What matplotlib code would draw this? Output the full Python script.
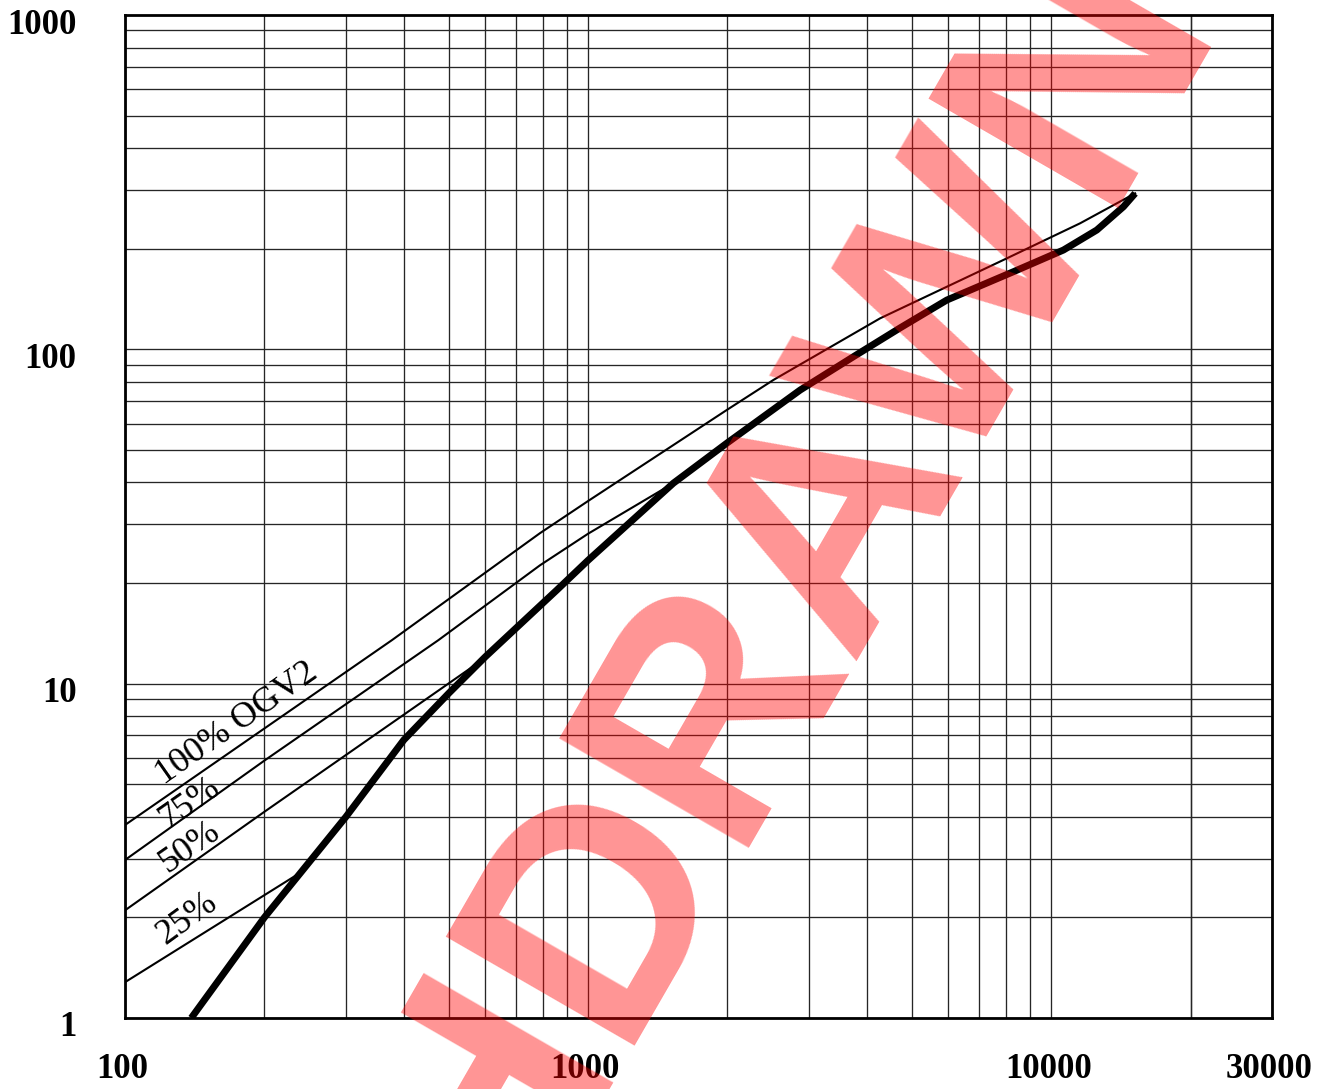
import matplotlib
matplotlib.use("Agg")
import matplotlib.pyplot as plt
from matplotlib.transforms import ScaledTranslation

# thick curve
thick_x = [139, 200, 300, 400, 500, 600, 856, 1000, 1528, 2000, 2871,
           3741, 4720, 5953, 8291, 10632, 12550, 14330, 15185]
thick_y = [1.0, 2.0, 4.0, 6.79, 9.36, 12.04, 19.06, 23.4, 39.8, 52.6, 75.6,
           95.1, 116, 140.5, 170.8, 198.3, 227.6, 267.3, 293]

# thin curves, each one ends where it joins the thick one
ogv100_x = [100, 377, 787, 1000, 2000, 2512, 4273, 8024, 11550, 15185]
ogv100_y = [3.78, 13.5, 28.2, 35.2, 66.1, 81.0, 123.9, 187.3, 238.4, 293]

ogv75_x = [100, 200, 475, 787, 1000, 1528]
ogv75_y = [2.97, 5.89, 13.5, 22.6, 28.1, 39.8]

ogv50_x = [100, 200, 400, 589]
ogv50_y = [2.10, 4.14, 8.08, 11.74]

ogv25_x = [100, 240]
ogv25_y = [1.28, 2.73]

x_ticks = [100, 1000, 10000, 30000]
x_ticklabels = ["100", "1000", "10000", "30000"]
y_ticks = [1, 10, 100, 1000]
y_ticklabels = ["1", "10", "100", "1000"]

# grid positions: 2..9 in each decade
x_grid = [m * d for d in (100, 1000, 10000) for m in range(1, 10)] + [20000]
y_grid = [m * d for d in (1, 10, 100) for m in range(1, 10)]

curve_labels = ["100% OGV2", "75%", "50%", "25%"]
label_x = [174.5, 138.2, 138.2, 136.5]
label_y = [7.6, 4.4, 3.25, 1.98]
label_rot = [35, 35, 35, 36]

serif = ["Liberation Serif", "DejaVu Serif"]

fig = plt.figure(figsize=(13.39, 10.89), dpi=100)
ax = fig.add_axes([0.0934, 0.0652, 0.8566, 0.9209])
ax.set_xscale("log")
ax.set_yscale("log")
ax.set_xlim(100, 30000)
ax.set_ylim(1, 1000)

for gx in x_grid:
    ax.axvline(gx, color="#262626", lw=0.95, zorder=1)
for gy in y_grid:
    ax.axhline(gy, color="#262626", lw=0.95, zorder=1)

ax.plot(ogv100_x, ogv100_y, color="black", lw=1.5, zorder=3)
ax.plot(ogv75_x, ogv75_y, color="black", lw=1.5, zorder=3)
ax.plot(ogv50_x, ogv50_y, color="black", lw=1.5, zorder=3)
ax.plot(ogv25_x, ogv25_y, color="black", lw=1.5, zorder=3)
ax.plot(thick_x, thick_y, color="black", lw=5.0, zorder=4,
        solid_capstyle="butt", solid_joinstyle="round")

for txt, lx, ly, rot in zip(curve_labels, label_x, label_y, label_rot):
    ax.text(lx, ly, txt, rotation=rot, rotation_mode="anchor",
            ha="center", va="center", fontsize=26, family=serif,
            color="black", zorder=5)

ax.set_xticks(x_ticks)
ax.set_xticklabels(x_ticklabels)
ax.set_yticks(y_ticks)
ax.set_yticklabels(y_ticklabels)
ax.minorticks_off()
ax.tick_params(length=0)
ax.tick_params(axis="x", pad=25)
ax.tick_params(axis="y", pad=35)
for lab in ax.get_xticklabels() + ax.get_yticklabels():
    lab.set_fontfamily(serif)
    lab.set_fontweight("bold")
    lab.set_fontsize(25)
for lab in ax.get_yticklabels():
    lab.set_transform(lab.get_transform()
                      + ScaledTranslation(0, -0.06, fig.dpi_scale_trans))
for lab in ax.get_xticklabels():
    lab.set_transform(lab.get_transform()
                      + ScaledTranslation(-0.03, 0, fig.dpi_scale_trans))

for sp in ax.spines.values():
    sp.set_linewidth(2.0)
    sp.set_color("black")
    sp.set_zorder(6)

# stamp across the whole sheet
fig.text(0.539, 0.178, "WITHDRAWN", rotation=60, rotation_mode="anchor",
         ha="center", va="baseline", fontsize=228, fontweight="bold",
         family=["Liberation Sans", "DejaVu Sans"], color="red", alpha=0.42,
         zorder=10)

fig.savefig("out.png", dpi=100)
